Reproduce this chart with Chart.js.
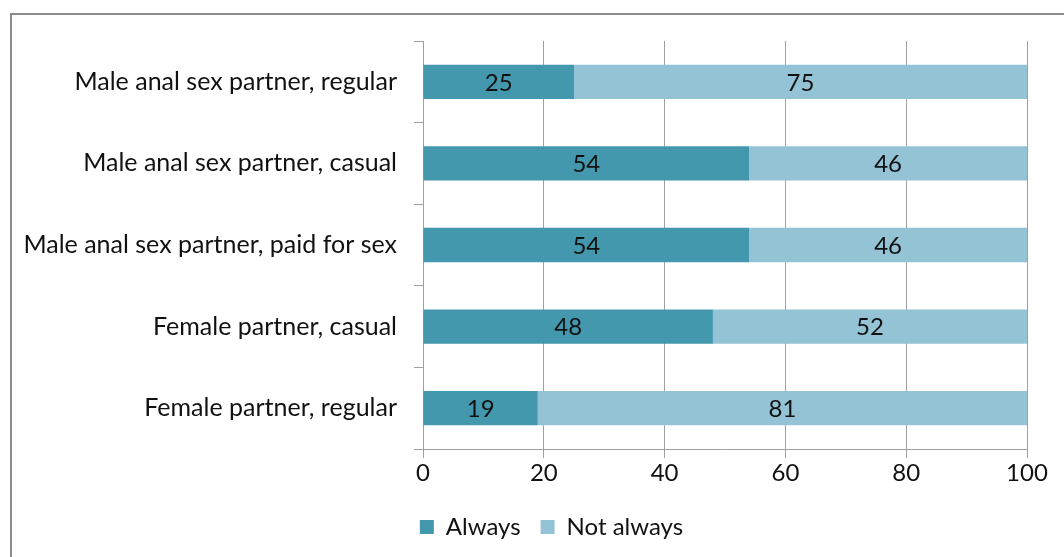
<!DOCTYPE html>
<html>
<head>
<meta charset="utf-8">
<script src="https://cdn.jsdelivr.net/npm/chart.js@4/dist/chart.umd.min.js"></script>
<style>
  html, body { margin: 0; padding: 0; background: #fff; overflow: hidden; }
  #wrap { position: absolute; left: 0; top: 0; width: 1064px; height: 557px; }
  #frame { position: absolute; left: 10px; top: 13px; width: 1100px; height: 600px;
           border-left: 2px solid #8a8a8a; border-top: 2px solid #8a8a8a; }
</style>
</head>
<body>
<div id="frame"></div>
<div id="wrap"><canvas id="chart" width="1064" height="557"></canvas></div>
<script>
// categories and values (percent)
const categories = [
  'Male anal sex partner, regular',
  'Male anal sex partner, casual',
  'Male anal sex partner, paid for sex',
  'Female partner, casual',
  'Female partner, regular'
];
const always = [25, 54, 54, 48, 19];
const notAlways = [75, 46, 46, 52, 81];
const xTicks = [0, 20, 40, 60, 80, 100];

const FONT = 'Lato, "Liberation Sans", sans-serif';
const padLeft = 76;

// draws the numbers in the middle of each segment
const barLabels = {
  id: 'barLabels',
  afterLayout(chart) {
    // let the long category names run past the left padding without clipping
    chart.scales.y.left = 0;
  },
  afterDatasetsDraw(chart) {
    const ctx = chart.ctx;
    ctx.save();
    ctx.font = '24px ' + FONT;
    ctx.fillStyle = '#111';
    ctx.textAlign = 'center';
    ctx.textBaseline = 'middle';
    chart.data.datasets.forEach((ds, i) => {
      chart.getDatasetMeta(i).data.forEach((el, j) => {
        const cx = (el.x + el.base) / 2;
        ctx.fillText(String(ds.data[j]), cx, el.y + 1);
      });
    });
    ctx.restore();
  }
};

const grey = '#a0a0a0';

new Chart(document.getElementById('chart').getContext('2d'), {
  type: 'bar',
  data: {
    labels: categories,
    datasets: [
      { label: 'Always', data: always, backgroundColor: '#4398AE', borderWidth: 0 },
      { label: 'Not always', data: notAlways, backgroundColor: '#93C3D5', borderWidth: 0 }
    ]
  },
  options: {
    indexAxis: 'y',
    responsive: false,
    animation: false,
    barPercentage: 0.42,
    categoryPercentage: 1,
    layout: { padding: { top: 41, right: 37, left: padLeft, bottom: 8 } },
    scales: {
      x: {
        stacked: true,
        min: 0, max: 100,
        afterBuildTicks: s => { s.ticks = xTicks.map(v => ({ value: v })); },
        afterFit: s => { s.height = 46; },
        grid: { color: grey, lineWidth: 1, tickLength: 9, drawTicks: true },
        border: { color: grey, width: 1 },
        ticks: { padding: 1, color: '#111', font: { family: FONT, size: 24 } }
      },
      y: {
        stacked: true,
        afterFit: s => { s.width = 423 - padLeft; },
        grid: { offset: true, drawOnChartArea: false, color: grey, tickLength: 9 },
        border: { color: grey, width: 1 },
        ticks: { padding: 17, color: '#111', font: { family: FONT, size: 25 } }
      }
    },
    plugins: {
      legend: {
        position: 'bottom',
        labels: {
          boxWidth: 14, boxHeight: 14, padding: 20,
          color: '#111', font: { family: FONT, size: 24 }
        }
      },
      tooltip: { enabled: false }
    }
  },
  plugins: [barLabels]
});
</script>
</body>
</html>
